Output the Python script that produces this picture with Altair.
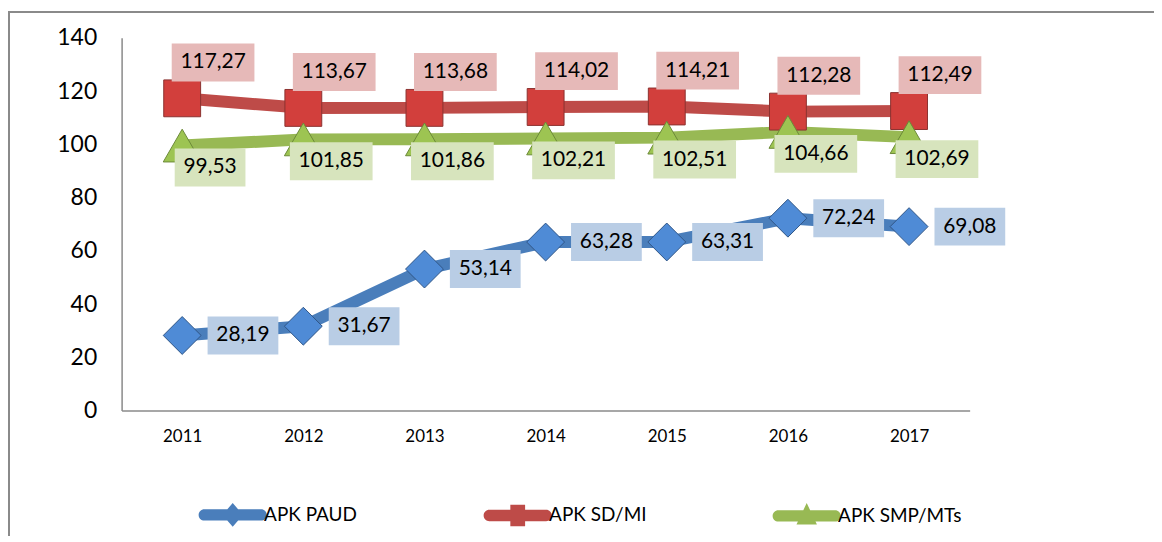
import altair as alt
import pandas as pd

years = ["2011", "2012", "2013", "2014", "2015", "2016", "2017"]
series_names = ["APK PAUD", "APK SD/MI", "APK SMP/MTs"]
apk_paud = [28.19, 31.67, 53.14, 63.28, 63.31, 72.24, 69.08]
apk_sdmi = [117.27, 113.67, 113.68, 114.02, 114.21, 112.28, 112.49]
apk_smp = [99.53, 101.85, 101.86, 102.21, 102.51, 104.66, 102.69]
y_ticks = [0, 20, 40, 60, 80, 100, 120, 140]

rows = []
for name, vals in zip(series_names, [apk_paud, apk_sdmi, apk_smp]):
    for yr, v in zip(years, vals):
        lab = f"{v:.2f}".replace(".", ",")
        rows.append({"year": yr, "series": name, "value": v, "label": lab, "len": len(lab)})
df = pd.DataFrame(rows)

FONT = "Lato"
line_colors = {"APK PAUD": "#4A7EBB", "APK SD/MI": "#BE4B48", "APK SMP/MTs": "#98B954"}
marker_fill = {"APK PAUD": "#4F8BD6", "APK SD/MI": "#D23F3C", "APK SMP/MTs": "#9DC452"}
marker_stroke = {"APK PAUD": "#2F5587", "APK SD/MI": "#8C3230", "APK SMP/MTs": "#6B8A38"}
marker_shape = {"APK PAUD": "diamond", "APK SD/MI": "square", "APK SMP/MTs": "triangle-up"}
marker_size = {"APK PAUD": 1444, "APK SD/MI": 1369, "APK SMP/MTs": 1444}
box_fill = {"APK PAUD": "#B9CDE5", "APK SD/MI": "#E6B9B8", "APK SMP/MTs": "#D7E4BD"}
label_off = {"APK PAUD": (61, 0), "APK SD/MI": (31, -36), "APK SMP/MTs": (28, 22)}
box_w = {5: 71, 6: 83}
BOX_H = 38

xenc = alt.X("year:O", scale=alt.Scale(type="point", padding=0.5), title=None,
             axis=alt.Axis(labelAngle=0))
yenc = alt.Y("value:Q", scale=alt.Scale(domain=[0, 140]), title=None,
             axis=alt.Axis(values=y_ticks))

base = alt.Chart(df)

border = alt.Chart(alt.Data(values=[{"a": 1}])).mark_rect(
    fillOpacity=0, stroke="#8A8A8A", strokeWidth=2
).encode(x=alt.value(-113), x2=alt.value(1100), y=alt.value(-26), y2=alt.value(560))

layers = [border]
for s in series_names:
    layers.append(
        base.transform_filter(alt.datum.series == s).mark_line(
            color=line_colors[s], strokeWidth=12, strokeJoin="round", strokeCap="round"
        ).encode(x=xenc, y=yenc)
    )
for s in series_names:
    layers.append(
        base.transform_filter(alt.datum.series == s).mark_point(
            shape=marker_shape[s], size=marker_size[s], filled=True, opacity=1,
            fill=marker_fill[s], stroke=marker_stroke[s], strokeWidth=1
        ).encode(x=xenc, y=yenc)
    )
for s in series_names:
    dx, dy = label_off[s]
    for L, w in box_w.items():
        path = f"M-1,{-BOX_H / w:.4f} H1 V{BOX_H / w:.4f} H-1 Z"
        layers.append(
            base.transform_filter((alt.datum.series == s) & (alt.datum.len == L)).mark_point(
                shape=path, size=w * w, filled=True, opacity=1, fill=box_fill[s],
                strokeWidth=0, xOffset=dx, yOffset=dy
            ).encode(x=xenc, y=yenc)
        )
    layers.append(
        base.transform_filter(alt.datum.series == s).mark_text(
            dx=dx, dy=dy, font=FONT, fontSize=21, color="black", align="center", baseline="middle"
        ).encode(x=xenc, y=yenc, text="label:N")
    )

bar = "M-1,-0.2 H1 A0.2,0.2 0 0 1 1,0.2 H-1 A0.2,0.2 0 0 1 -1,-0.2 Z"
legend_paths = [
    bar + " M0,-0.42 L0.36,0 L0,0.42 L-0.36,0 Z",
    bar + " M-0.26,-0.38 H0.26 V0.38 H-0.26 Z",
    bar + " M0,-0.45 L0.36,0.3 L-0.36,0.3 Z",
]
legend_layer = base.transform_filter("false").mark_point(filled=True, opacity=1).encode(
    x=xenc, y=yenc,
    color=alt.Color("series:N", scale=alt.Scale(domain=series_names,
                                                range=[line_colors[s] for s in series_names]),
                    legend=alt.Legend(title=None)),
    shape=alt.Shape("series:N", scale=alt.Scale(domain=series_names, range=legend_paths),
                    legend=alt.Legend(title=None)),
)
layers.append(legend_layer)

chart = alt.layer(*layers).properties(
    width=851, height=374,
    padding={"left": 114, "top": 29, "right": 185, "bottom": 125},
    autosize=alt.AutoSizeParams(type="none"),
).configure_view(stroke=None).configure_axis(
    domainColor="#8A8A8A", domainWidth=1.5, ticks=False, grid=False,
    labelFont=FONT, labelColor="black",
).configure_axisX(labelFontSize=17, labelPadding=18).configure_axisY(
    labelFontSize=23, labelPadding=25
).configure_legend(
    orient="none", legendX=83, legendY=450, direction="horizontal",
    labelFont=FONT, labelFontSize=19, labelColor="black", symbolSize=3249,
    symbolStrokeWidth=0, columnPadding=126, labelOffset=3, symbolType="circle"
)

chart.save("out.html", embed_options={"renderer": "svg", "actions": False})
